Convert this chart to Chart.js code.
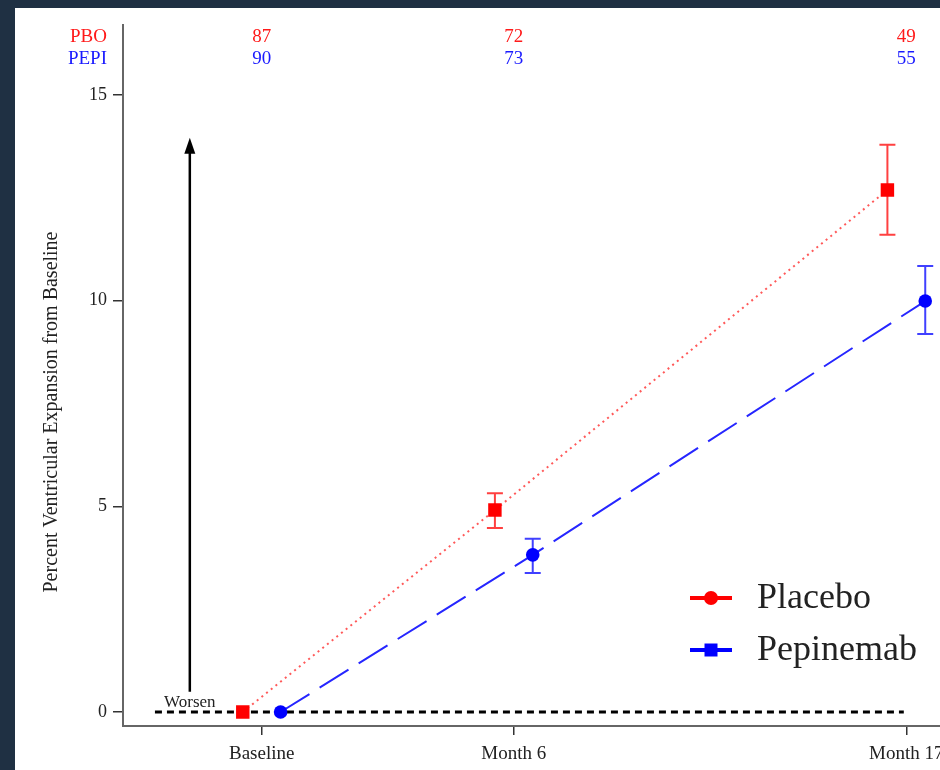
<!DOCTYPE html>
<html>
<head>
<meta charset="utf-8">
<script src="https://cdn.jsdelivr.net/npm/chart.js@4.4.1/dist/chart.umd.min.js"></script>
<style>
  html, body { margin: 0; padding: 0; width: 940px; height: 770px; overflow: hidden; background: #1f3043; }
  #frame { position: absolute; left: 15px; top: 8px; width: 925px; height: 762px; background: #fff; overflow: hidden; }
  canvas { display: block; }
</style>
</head>
<body>
<div id="frame"><canvas id="chart" width="1000" height="762"></canvas></div>
<script>
const SERIF = "'Liberation Serif', 'Times New Roman', serif";

// visit ticks on the x axis
const visitTicks  = [0, 6, 15.34];
const visitLabels = ['Baseline', 'Month 6', 'Month 17'];

// Placebo (red), dodged left of each visit
const placeboX    = [-0.45, 5.55, 14.89];
const placeboMean = [0, 4.91, 12.69];
const placeboLow  = [null, 4.47, 11.60];
const placeboHigh = [null, 5.32, 13.79];
const placeboN    = [87, 72, 49];

// Pepinemab (blue), dodged right
const pepiX    = [0.45, 6.45, 15.79];
const pepiMean = [0, 3.82, 9.99];
const pepiLow  = [null, 3.38, 9.19];
const pepiHigh = [null, 4.21, 10.84];
const pepiN    = [90, 73, 55];

const yTicks    = [0, 5, 10, 15];
const refLineX  = [-2.54, 15.28];
const arrowX    = -1.71;
const arrowFrom = 0.49;
const arrowTo   = 13.96;
const worsenY   = 0.22;

const RED  = '#ff1a1a';
const BLUE = '#1a1aff';

const toPoints = (xs, ys) => xs.map((x, i) => ({ x, y: ys[i] }));

const overlay = {
  id: 'overlay',
  beforeDatasetsDraw(chart) {
    const { ctx, scales: { x, y } } = chart;
    const bars = [
      { xs: placeboX, lo: placeboLow, hi: placeboHigh, color: 'rgba(255,30,30,0.85)' },
      { xs: pepiX,    lo: pepiLow,    hi: pepiHigh,    color: 'rgba(30,30,255,0.85)' },
    ];
    ctx.save();
    ctx.lineWidth = 2;
    bars.forEach(b => {
      ctx.strokeStyle = b.color;
      b.xs.forEach((xv, i) => {
        if (b.lo[i] == null) return;
        const px = x.getPixelForValue(xv);
        const top = y.getPixelForValue(b.hi[i]);
        const bot = y.getPixelForValue(b.lo[i]);
        ctx.beginPath();
        ctx.moveTo(px, top); ctx.lineTo(px, bot);
        ctx.moveTo(px - 8, top); ctx.lineTo(px + 8, top);
        ctx.moveTo(px - 8, bot); ctx.lineTo(px + 8, bot);
        ctx.stroke();
      });
    });
    ctx.restore();
  },
  afterDraw(chart) {
    const { ctx, scales: { x, y } } = chart;
    ctx.save();

    // numbers at risk
    ctx.font = `19px ${SERIF}`;
    ctx.textBaseline = 'middle';
    ctx.textAlign = 'right';
    ctx.fillStyle = RED;  ctx.fillText('PBO', 92, 29);
    ctx.fillStyle = BLUE; ctx.fillText('PEPI', 92, 51);
    ctx.textAlign = 'center';
    visitTicks.forEach((v, i) => {
      const px = x.getPixelForValue(v);
      ctx.fillStyle = RED;  ctx.fillText(String(placeboN[i]), px, 29);
      ctx.fillStyle = BLUE; ctx.fillText(String(pepiN[i]), px, 51);
    });

    // worsen arrow
    const ax = x.getPixelForValue(arrowX);
    const a0 = y.getPixelForValue(arrowFrom);
    const a1 = y.getPixelForValue(arrowTo);
    ctx.strokeStyle = '#000';
    ctx.fillStyle = '#000';
    ctx.lineWidth = 2.5;
    ctx.beginPath();
    ctx.moveTo(ax, a0); ctx.lineTo(ax, a1 + 10);
    ctx.stroke();
    ctx.beginPath();
    ctx.moveTo(ax, a1); ctx.lineTo(ax - 5.5, a1 + 16); ctx.lineTo(ax + 5.5, a1 + 16);
    ctx.closePath();
    ctx.fill();
    ctx.font = `17px ${SERIF}`;
    ctx.fillStyle = '#222';
    ctx.fillText('Worsen', ax, y.getPixelForValue(worsenY));

    // y axis title
    ctx.save();
    ctx.translate(37, 404);
    ctx.rotate(-Math.PI / 2);
    ctx.font = `20px ${SERIF}`;
    ctx.fillStyle = '#222';
    ctx.fillText('Percent Ventricular Expansion from Baseline', 0, 0);
    ctx.restore();

    // legend
    const items = [
      { label: 'Placebo',   color: '#ff0000', shape: 'circle', y: 590 },
      { label: 'Pepinemab', color: '#0000ff', shape: 'square', y: 642 },
    ];
    ctx.font = `36px ${SERIF}`;
    ctx.textAlign = 'left';
    items.forEach(it => {
      ctx.strokeStyle = it.color;
      ctx.fillStyle = it.color;
      ctx.lineWidth = 4;
      ctx.beginPath();
      ctx.moveTo(675, it.y); ctx.lineTo(717, it.y);
      ctx.stroke();
      ctx.beginPath();
      if (it.shape === 'circle') ctx.arc(696, it.y, 7, 0, Math.PI * 2);
      else ctx.rect(689.5, it.y - 6.5, 13, 13);
      ctx.fill();
      ctx.fillStyle = '#222';
      ctx.fillText(it.label, 742, it.y + 1);
    });

    ctx.restore();
  },
};

new Chart(document.getElementById('chart'), {
  type: 'line',
  data: {
    datasets: [
      {
        label: 'Placebo',
        data: toPoints(placeboX, placeboMean),
        borderColor: 'rgba(255,60,60,0.85)',
        borderWidth: 2,
        borderDash: [2, 4],
        pointStyle: 'rect',
        pointRadius: 9.5,
        pointBackgroundColor: '#ff0000',
        pointBorderWidth: 0,
        order: 2,
      },
      {
        label: 'Pepinemab',
        data: toPoints(pepiX, pepiMean),
        borderColor: '#2626ff',
        borderWidth: 2,
        borderDash: [34, 12],
        pointStyle: 'circle',
        pointRadius: 6.8,
        pointBackgroundColor: '#0000ff',
        pointBorderWidth: 0,
        order: 1,
      },
      {
        label: 'ref',
        data: toPoints(refLineX, [0, 0]),
        borderColor: '#000',
        borderWidth: 3,
        borderDash: [7, 5],
        pointRadius: 0,
        order: 3,
      },
    ],
  },
  plugins: [overlay],
  options: {
    responsive: false,
    animation: false,
    layout: { padding: { left: 0, top: 17, right: 4, bottom: 0 } },
    plugins: { legend: { display: false }, tooltip: { enabled: false } },
    scales: {
      x: {
        type: 'linear',
        min: -3.30,
        max: 17.70,
        afterBuildTicks: axis => { axis.ticks = visitTicks.map(v => ({ value: v })); },
        afterFit: axis => {
          axis.height = 44;
          axis.paddingLeft = 0;
          axis.paddingRight = 0;
        },
        grid: { drawOnChartArea: false, drawTicks: true, tickLength: 9, color: '#333', lineWidth: 1.5 },
        border: { display: true, color: '#666', width: 2 },
        ticks: {
          autoSkip: false,
          maxRotation: 0,
          padding: 8,
          color: '#222',
          font: { family: SERIF, size: 19 },
          callback: (v, i) => visitLabels[i],
        },
      },
      y: {
        type: 'linear',
        min: -0.34,
        max: 16.7,
        afterBuildTicks: axis => { axis.ticks = yTicks.map(v => ({ value: v })); },
        afterFit: axis => {
          axis.width = 108;
          axis.paddingTop = 0;
          axis.paddingBottom = 0;
        },
        grid: { drawOnChartArea: false, drawTicks: true, tickLength: 10, color: '#333', lineWidth: 1.5 },
        border: { display: true, color: '#666', width: 2 },
        ticks: {
          padding: 6,
          color: '#222',
          font: { family: SERIF, size: 18 },
          callback: v => String(v),
        },
      },
    },
  },
});
</script>
</body>
</html>
